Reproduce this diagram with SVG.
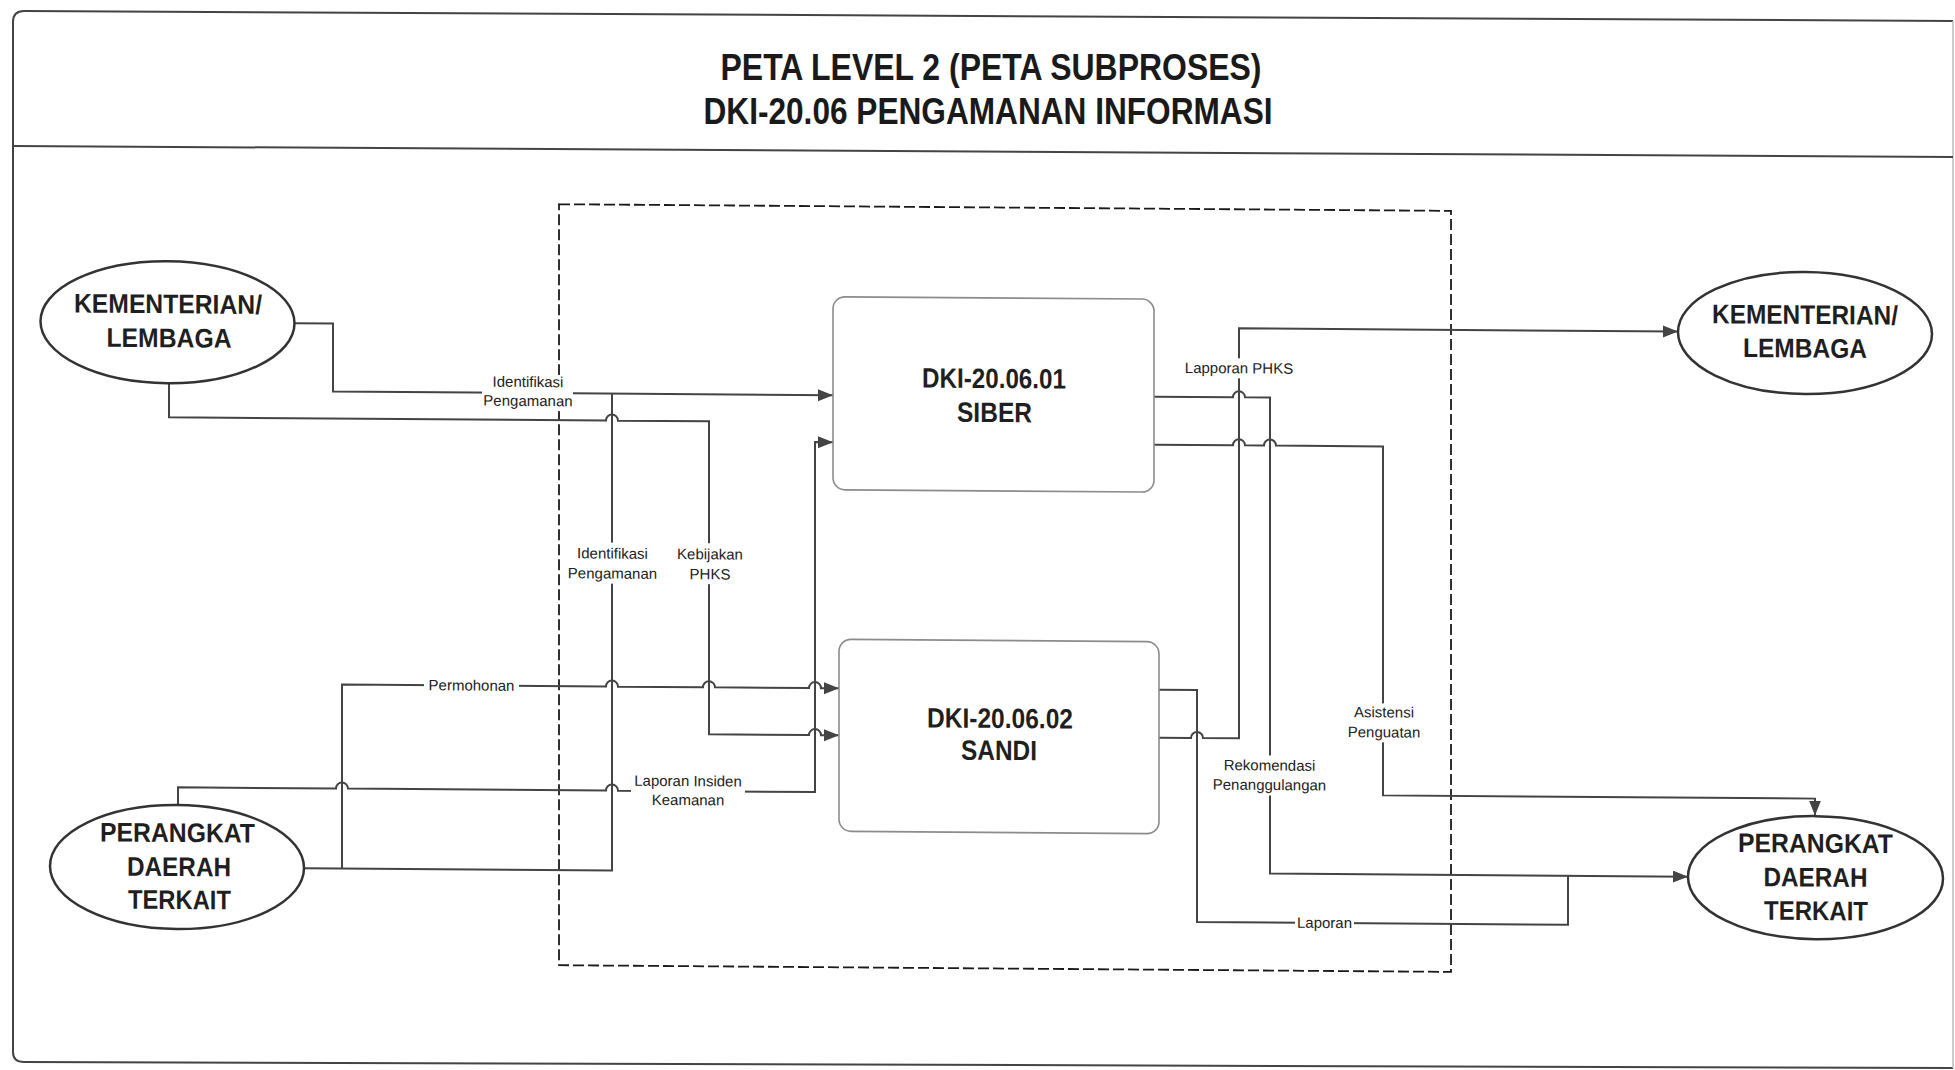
<svg xmlns="http://www.w3.org/2000/svg" width="1955" height="1070" viewBox="0 0 1955 1070">
<defs>
<marker id="arr" markerUnits="userSpaceOnUse" markerWidth="16" markerHeight="14" refX="15" refY="6" orient="auto">
<path d="M0,0 L15,6 L0,12 z" fill="#444"/>
</marker>
<style>
.frame{fill:none;stroke:#444;stroke-width:2}
.title{font-family:"Liberation Sans",Arial,sans-serif;font-weight:bold;font-size:37px;fill:#1a1a1a;text-anchor:middle}
.node{fill:#fff;stroke:#333;stroke-width:2.5}
.box{fill:#fff;stroke:#8c8c8c;stroke-width:1.6}
.nt{font-family:"Liberation Sans",Arial,sans-serif;font-weight:bold;font-size:27px;fill:#1f1f1f;text-anchor:middle}
.bt{font-family:"Liberation Sans",Arial,sans-serif;font-weight:bold;font-size:28px;fill:#1f1f1f;text-anchor:middle}
.dash{fill:none;stroke:#1a1a1a;stroke-width:1.8;stroke-dasharray:11 4}
.c{fill:none;stroke:#444;stroke-width:2}
.lb{font-family:"Liberation Sans",Arial,sans-serif;font-size:15px;fill:#222;text-anchor:middle}
.bg{fill:#fff}
</style>
</defs>
<rect x="0" y="0" width="1955" height="1070" fill="#fff"/>
<g id="frame">
<path class="frame" d="M1953,21 L24,11 Q13,11 13,22 L13,1052 Q13,1062 24,1062 L1953,1068"/>
<path d="M1953,21 L1953,1068" fill="none" stroke="#bbb" stroke-width="1.5"/>
<path class="frame" d="M13,146 L1953,157"/>
</g>
<g id="title">
<text class="title" x="991" y="80" textLength="541" lengthAdjust="spacingAndGlyphs">PETA LEVEL 2 (PETA SUBPROSES)</text>
<text class="title" x="988" y="124" textLength="569" lengthAdjust="spacingAndGlyphs">DKI-20.06 PENGAMANAN INFORMASI</text>
</g>
<g id="content" transform="skewY(0.43)">
<g id="boundary">
<rect class="dash" x="559" y="200" width="892" height="761"/>
</g>
<g id="connectors">
<path class="c" marker-end="url(#arr)" d="M295,321 H333 V389 H833"/>
<path class="c" marker-end="url(#arr)" d="M169,382 V416 H606 a6,6 0 0 1 12,0 H709 V729 H809 a6,6 0 0 1 12,0 H839"/>
<path class="c" d="M304,866 H612 V389"/>
<path class="c" marker-end="url(#arr)" d="M342,866 V682 H606 a6,6 0 0 1 12,0 H703 a6,6 0 0 1 12,0 H809 a6,6 0 0 1 12,0 H839"/>
<path class="c" marker-end="url(#arr)" d="M178,804 V786 H336 a6,6 0 0 1 12,0 H606 a6,6 0 0 1 12,0 H815 V436 H833"/>
<path class="c" marker-end="url(#arr)" d="M1154,388 H1233 a6,6 0 0 1 12,0 H1270 V864 H1688"/>
<path class="c" marker-end="url(#arr)" d="M1159,729 H1191 a6,6 0 0 1 12,0 H1239 V319 H1678"/>
<path class="c" d="M1159,681 H1197 V913 H1568 V864"/>
<path class="c" marker-end="url(#arr)" d="M1154,436 H1233 a6,6 0 0 1 12,0 H1264 a6,6 0 0 1 12,0 H1383 V785 H1815 V802"/>
<g id="labels">
<rect class="bg" x="482" y="371" width="91" height="36"/>
<text class="lb" x="528" y="383">Identifikasi</text>
<text class="lb" x="528" y="402">Pengamanan</text>
<rect class="bg" x="566" y="538" width="93" height="41"/>
<text class="lb" x="612.5" y="554">Identifikasi</text>
<text class="lb" x="612.5" y="574">Pengamanan</text>
<rect class="bg" x="674" y="538" width="72" height="41"/>
<text class="lb" x="710" y="554">Kebijakan</text>
<text class="lb" x="710" y="574">PHKS</text>
<rect class="bg" x="424" y="672" width="95" height="20"/>
<text class="lb" x="471.5" y="687">Permohonan</text>
<rect class="bg" x="631" y="768" width="114" height="37"/>
<text class="lb" x="688" y="781">Laporan Insiden</text>
<text class="lb" x="688" y="800">Keamanan</text>
<rect class="bg" x="1184" y="349" width="110" height="20"/>
<text class="lb" x="1239" y="364">Lapporan PHKS</text>
<rect class="bg" x="1210" y="746" width="119" height="40"/>
<text class="lb" x="1269.5" y="761">Rekomendasi</text>
<text class="lb" x="1269.5" y="780.5">Penanggulangan</text>
<rect class="bg" x="1344" y="693" width="80" height="39"/>
<text class="lb" x="1384" y="707">Asistensi</text>
<text class="lb" x="1384" y="727">Penguatan</text>
<rect class="bg" x="1295" y="903" width="59" height="20"/>
<text class="lb" x="1324.5" y="918">Laporan</text>
</g>
</g>
<g id="kl-left">
<ellipse class="node" cx="167.5" cy="321" rx="127" ry="61"/>
<text class="nt" x="168" y="312" textLength="188" lengthAdjust="spacingAndGlyphs">KEMENTERIAN/</text>
<text class="nt" x="169" y="346" textLength="125" lengthAdjust="spacingAndGlyphs">LEMBAGA</text>
</g>
<g id="pd-left">
<ellipse class="node" cx="177" cy="865.7" rx="127" ry="62"/>
<text class="nt" x="177.5" y="840.7" textLength="155" lengthAdjust="spacingAndGlyphs">PERANGKAT</text>
<text class="nt" x="179" y="874.7" textLength="104" lengthAdjust="spacingAndGlyphs">DAERAH</text>
<text class="nt" x="179.5" y="907.7" textLength="103" lengthAdjust="spacingAndGlyphs">TERKAIT</text>
</g>
<g id="siber">
<rect class="box" x="833" y="290.5" width="321" height="193" rx="12"/>
<text class="bt" x="994" y="380.6" textLength="144" lengthAdjust="spacingAndGlyphs">DKI-20.06.01</text>
<text class="bt" x="994.5" y="414.6" textLength="75" lengthAdjust="spacingAndGlyphs">SIBER</text>
</g>
<g id="sandi">
<rect class="box" x="839" y="633" width="320" height="192" rx="12"/>
<text class="bt" x="1000" y="720.5" textLength="146" lengthAdjust="spacingAndGlyphs">DKI-20.06.02</text>
<text class="bt" x="999" y="752.5" textLength="76" lengthAdjust="spacingAndGlyphs">SANDI</text>
</g>
<g id="kl-right">
<ellipse class="node" cx="1805" cy="319.5" rx="127" ry="61"/>
<text class="nt" x="1805" y="310.5" textLength="186" lengthAdjust="spacingAndGlyphs">KEMENTERIAN/</text>
<text class="nt" x="1805" y="344" textLength="124" lengthAdjust="spacingAndGlyphs">LEMBAGA</text>
</g>
<g id="pd-right">
<ellipse class="node" cx="1815.5" cy="864" rx="127.5" ry="61.5"/>
<text class="nt" x="1815.5" y="839" textLength="155" lengthAdjust="spacingAndGlyphs">PERANGKAT</text>
<text class="nt" x="1815.5" y="873" textLength="104" lengthAdjust="spacingAndGlyphs">DAERAH</text>
<text class="nt" x="1816" y="906.5" textLength="104" lengthAdjust="spacingAndGlyphs">TERKAIT</text>
</g>
</g>
</svg>
